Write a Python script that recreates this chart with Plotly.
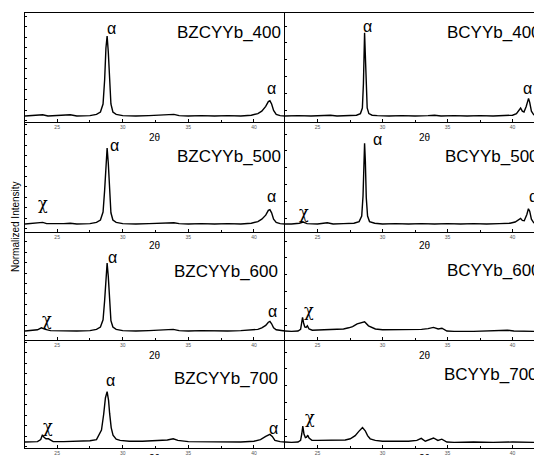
import plotly.graph_objects as go

# ---------------- data (2-theta in degrees, normalized intensity) ----------------
SAMPLES = ["BZCYYb_400", "BCYYb_400", "BZCYYb_500", "BCYYb_500",
           "BZCYYb_600", "BCYYb_600", "BZCYYb_700", "BCYYb_700"]

TH_BZ400 = [22.55, 23.0, 23.5, 23.9, 24.3, 25.0, 25.5, 26.0, 26.5, 27.0, 27.5, 28.0, 28.3, 28.5, 28.62, 28.72, 28.81, 28.9, 29.0, 29.1, 29.25, 29.5, 30.0, 31.0, 32.0, 33.0, 33.9, 34.3, 35.0, 36.0, 37.0, 38.0, 39.0, 39.8, 40.3, 40.6, 40.9, 41.1, 41.22, 41.35, 41.5, 41.7, 42.0, 42.37]
I_BZ400 = [0.0, 0.005, 0.005, 0.015, 0.0, 0.005, 0.005, 0.015, 0.0, 0.005, 0.005, 0.02, 0.05, 0.15, 0.45, 0.85, 1.0, 0.8, 0.4, 0.15, 0.05, 0.02, 0.005, 0.0, 0.005, 0.01, 0.02, 0.005, 0.0, 0.005, 0.0, 0.005, 0.0, 0.01, 0.03, 0.06, 0.12, 0.18, 0.19, 0.15, 0.07, 0.02, 0.005, 0.0]

TH_BC400 = [22.5, 23.5, 24.5, 25.5, 26.0, 26.5, 27.5, 28.0, 28.3, 28.45, 28.53, 28.58, 28.62, 28.67, 28.73, 28.82, 28.95, 29.2, 29.6, 30.5, 31.5, 32.5, 33.5, 34.0, 34.5, 35.5, 36.5, 37.5, 38.5, 39.5, 40.0, 40.3, 40.5, 40.62, 40.75, 40.88, 41.05, 41.15, 41.23, 41.32, 41.45, 41.65]
I_BC400 = [0.0, 0.005, 0.0, 0.005, 0.01, 0.0, 0.005, 0.01, 0.03, 0.1, 0.4, 0.85, 1.04, 0.8, 0.35, 0.1, 0.03, 0.01, 0.005, 0.0, 0.005, 0.0, 0.005, 0.01, 0.0, 0.005, 0.0, 0.005, 0.0, 0.005, 0.01, 0.03, 0.07, 0.1, 0.06, 0.05, 0.12, 0.19, 0.22, 0.17, 0.06, 0.01]

TH_BZ500 = [22.55, 23.0, 23.6, 23.9, 24.2, 25.0, 25.5, 26.0, 26.5, 27.5, 28.0, 28.3, 28.5, 28.62, 28.72, 28.81, 28.9, 29.0, 29.1, 29.25, 29.5, 30.0, 31.0, 32.0, 33.0, 33.9, 34.3, 35.0, 36.0, 37.0, 38.0, 39.0, 39.8, 40.3, 40.6, 40.9, 41.1, 41.22, 41.35, 41.5, 41.7, 42.0, 42.37]
I_BZ500 = [0.0, 0.005, 0.01, 0.02, 0.005, 0.0, 0.005, 0.01, 0.0, 0.005, 0.02, 0.05, 0.15, 0.42, 0.8, 0.95, 0.76, 0.38, 0.14, 0.05, 0.02, 0.005, 0.0, 0.005, 0.01, 0.015, 0.005, 0.0, 0.005, 0.0, 0.005, 0.0, 0.01, 0.03, 0.06, 0.11, 0.17, 0.18, 0.14, 0.06, 0.02, 0.005, 0.0]

TH_BC500 = [22.5, 23.0, 23.6, 23.9, 24.2, 25.0, 25.75, 26.2, 27.0, 27.8, 28.2, 28.4, 28.5, 28.57, 28.62, 28.68, 28.75, 28.85, 29.0, 29.4, 30.0, 31.0, 32.0, 33.0, 34.0, 35.0, 36.0, 37.0, 38.0, 39.0, 39.8, 40.2, 40.45, 40.62, 40.75, 40.9, 41.1, 41.22, 41.32, 41.45, 41.65]
I_BC500 = [0.0, 0.0, 0.01, 0.025, 0.005, 0.0, 0.015, 0.0, 0.005, 0.01, 0.03, 0.1, 0.35, 0.8, 1.01, 0.78, 0.33, 0.1, 0.03, 0.01, 0.0, 0.005, 0.0, 0.005, 0.0, 0.005, 0.0, 0.005, 0.0, 0.005, 0.01, 0.025, 0.05, 0.07, 0.045, 0.04, 0.12, 0.19, 0.16, 0.06, 0.01]

TH_BZ600 = [22.55, 23.0, 23.5, 23.8, 24.1, 24.5, 25.5, 26.0, 26.5, 27.5, 28.0, 28.3, 28.5, 28.62, 28.72, 28.81, 28.9, 29.0, 29.1, 29.25, 29.5, 30.0, 31.0, 32.0, 33.0, 33.85, 34.3, 35.0, 36.0, 37.0, 38.0, 39.0, 39.8, 40.3, 40.6, 40.9, 41.1, 41.22, 41.35, 41.5, 41.7, 42.0, 42.37]
I_BZ600 = [0.0, 0.005, 0.015, 0.04, 0.02, 0.005, 0.0, 0.005, 0.0, 0.005, 0.02, 0.05, 0.14, 0.38, 0.72, 0.85, 0.68, 0.34, 0.13, 0.05, 0.02, 0.005, 0.0, 0.005, 0.01, 0.02, 0.005, 0.0, 0.005, 0.0, 0.0, 0.005, 0.01, 0.02, 0.04, 0.07, 0.11, 0.12, 0.09, 0.04, 0.015, 0.005, 0.0]

TH_BC600 = [22.5, 23.0, 23.5, 23.7, 23.78, 23.85, 23.93, 24.02, 24.12, 24.22, 24.35, 24.6, 25.5, 26.5, 27.0, 27.4, 27.7, 28.05, 28.35, 28.62, 28.92, 29.2, 29.45, 30.0, 31.0, 32.0, 33.0, 33.5, 33.92, 34.28, 34.57, 34.95, 35.5, 37.0, 38.5, 39.6, 40.1, 41.0, 41.65]
I_BC600 = [0.0, -0.005, 0.0, 0.02, 0.1, 0.17, 0.1, 0.05, 0.045, 0.065, 0.025, 0.01, 0.015, 0.02, 0.025, 0.04, 0.055, 0.09, 0.1, 0.115, 0.065, 0.04, 0.025, 0.015, 0.015, 0.02, 0.02, 0.03, 0.045, 0.025, 0.035, 0.0, -0.005, -0.005, 0.0, 0.01, 0.0, -0.005, -0.005]

TH_BZ700 = [22.55, 23.0, 23.5, 23.75, 23.88, 24.0, 24.15, 24.34, 24.5, 24.7, 25.5, 26.5, 27.5, 28.0, 28.38, 28.55, 28.68, 28.81, 28.92, 29.0, 29.12, 29.26, 29.5, 29.8, 30.5, 31.5, 32.5, 33.0, 33.4, 33.85, 34.2, 35.0, 36.0, 37.0, 38.0, 39.0, 40.0, 40.5, 40.9, 41.1, 41.22, 41.4, 41.6, 42.0, 42.37]
I_BZ700 = [0.0, 0.0, 0.005, 0.03, 0.09, 0.06, 0.04, 0.04, 0.02, 0.005, 0.005, 0.01, 0.015, 0.03, 0.15, 0.35, 0.55, 0.63, 0.52, 0.36, 0.18, 0.085, 0.035, 0.02, 0.01, 0.01, 0.02, 0.03, 0.025, 0.04, 0.02, 0.005, 0.005, 0.0, 0.005, 0.0, 0.01, 0.03, 0.07, 0.09, 0.095, 0.07, 0.02, 0.005, 0.0]

TH_BC700 = [22.5, 23.0, 23.5, 23.7, 23.79, 23.87, 23.96, 24.07, 24.16, 24.25, 24.35, 24.57, 25.0, 26.1, 27.13, 27.52, 27.7, 27.9, 28.16, 28.46, 28.67, 28.85, 29.05, 29.44, 30.0, 31.0, 32.0, 32.64, 32.98, 33.29, 33.6, 33.92, 34.26, 34.56, 34.95, 35.5, 37.0, 38.5, 40.0, 41.65]
I_BC700 = [0.0, -0.005, 0.0, 0.02, 0.1, 0.2, 0.1, 0.055, 0.06, 0.085, 0.05, 0.02, 0.02, 0.02, 0.025, 0.04, 0.055, 0.08, 0.13, 0.18, 0.14, 0.08, 0.04, 0.02, 0.01, 0.01, 0.01, 0.02, 0.045, 0.01, 0.025, 0.05, 0.02, 0.035, 0.0, -0.005, 0.0, -0.005, 0.0, -0.005]

THETA = [TH_BZ400, TH_BC400, TH_BZ500, TH_BC500, TH_BZ600, TH_BC600, TH_BZ700, TH_BC700]
INTENS = [I_BZ400, I_BC400, I_BZ500, I_BC500, I_BZ600, I_BC600, I_BZ700, I_BC700]

XTICKS = [25, 30, 35, 40]

# phase labels: (panel index, 2theta, intensity, symbol)
PHASE_LABELS = [
    (0, 29.11, 1.10, "α"), (0, 41.31, 0.35, "α"),
    (1, 28.81, 1.125, "α"), (1, 41.12, 0.35, "α"),
    (2, 29.34, 0.975, "α"), (2, 23.92, 0.26, "χ"), (2, 41.31, 0.34, "α"),
    (3, 29.58, 1.05, "α"), (3, 23.96, 0.14, "χ"), (3, 41.58, 0.34, "α"),
    (4, 29.19, 0.925, "α"), (4, 24.23, 0.15, "χ"), (4, 41.39, 0.24, "α"),
    (5, 24.35, 0.26, "χ"),
    (6, 29.03, 0.77, "α"), (6, 24.30, 0.19, "χ"), (6, 41.47, 0.17, "α"),
    (7, 24.42, 0.31, "χ"),
]
# sample-name label anchors (2theta, intensity)
NAME_POS = [(33.99, 1.04), (34.81, 1.04), (33.99, 0.84), (34.65, 0.84),
            (33.76, 0.75), (34.81, 0.76), (33.76, 0.79), (34.58, 0.85)]

# ---------------- layout geometry ----------------
W, H = 534, 455
XL = [25 / W, 285 / W]
XR = [285 / W, 1.0]
ROW_PX = [(13, 122), (122, 232), (232, 340), (340, 448)]
YRANGES = [[-0.075, 1.2875], [-0.10, 1.275], [-0.1125, 1.2375], [-0.075, 1.275]]
XRANGE_L = [22.55, 42.37]
XRANGE_R = [22.5, 41.65]

FONT = "Liberation Sans, Arial, sans-serif"
GREEK_FONT = {"α": "Liberation Sans, Arial, sans-serif", "χ": "DejaVu Serif, serif"}

fig = go.Figure()
layout = dict(width=W, height=H, margin=dict(l=0, r=0, t=0, b=0),
              plot_bgcolor="white", paper_bgcolor="white", showlegend=False,
              font=dict(family=FONT, color="black"))
annotations = []

for i in range(8):
    r, c = divmod(i, 2)
    n = i + 1
    xa = "x" if n == 1 else f"x{n}"
    ya = "y" if n == 1 else f"y{n}"
    fig.add_trace(go.Scatter(x=THETA[i], y=INTENS[i], mode="lines",
                             line=dict(color="black", width=1.4),
                             xaxis=xa, yaxis=ya, hoverinfo="skip"))
    top, bot = ROW_PX[r]
    ydom = [1 - bot / H, 1 - top / H]
    layout["xaxis" if n == 1 else f"xaxis{n}"] = dict(
        domain=XL if c == 0 else XR, range=XRANGE_L if c == 0 else XRANGE_R,
        anchor=ya, showline=True, linecolor="black", linewidth=1,
        mirror=(r == 0), ticks="inside", ticklen=3, tickwidth=1, tickcolor="black",
        tickvals=XTICKS, tickfont=dict(size=5, color="#555"),
        minor=dict(ticks="inside", ticklen=2, dtick=2.5, tick0=25, tickcolor="black"),
        showgrid=False, zeroline=False, fixedrange=True)
    layout["yaxis" if n == 1 else f"yaxis{n}"] = dict(
        domain=ydom, range=YRANGES[r], anchor=xa, showline=True, linecolor="black",
        linewidth=1, ticks="inside", ticklen=2, tickcolor="black",
        tick0=0.075, dtick=0.13 if c == 0 else 0.21, showticklabels=False,
        showgrid=False, zeroline=False, fixedrange=True)
    # sample name
    nx, ny = NAME_POS[i]
    annotations.append(dict(x=nx, y=ny, xref=xa, yref=ya, text=SAMPLES[i],
                            showarrow=False, xanchor="left", yanchor="middle",
                            font=dict(size=17, family=FONT, color="black")))
    # 2-theta axis title
    tx = 32.47 if c == 0 else 33.27
    ty_px = [137, 245, 355, 458][r]
    annotations.append(dict(x=tx, y=1 - ty_px / H, xref=xa, yref="paper", text="2θ",
                            showarrow=False, xanchor="center", yanchor="middle",
                            font=dict(size=10, family=FONT, color="black")))

for (p, tx, ty, s) in PHASE_LABELS:
    n = p + 1
    xa = "x" if n == 1 else f"x{n}"
    ya = "y" if n == 1 else f"y{n}"
    annotations.append(dict(x=tx, y=ty, xref=xa, yref=ya, text=s, showarrow=False,
                            xanchor="center", yanchor="middle",
                            font=dict(size=16, family=GREEK_FONT[s], color="black")))

annotations.append(dict(x=15 / W, y=1 - 227 / H, xref="paper", yref="paper",
                        text="Normalized Intensity", textangle=-90, showarrow=False,
                        xanchor="center", yanchor="middle",
                        font=dict(size=10, family=FONT, color="black")))

layout["annotations"] = annotations
fig.update_layout(**layout)
fig.write_html("out.html", config={"displayModeBar": False, "staticPlot": True},
               post_script="document.body.style.margin='0';document.body.style.overflow='hidden';")
